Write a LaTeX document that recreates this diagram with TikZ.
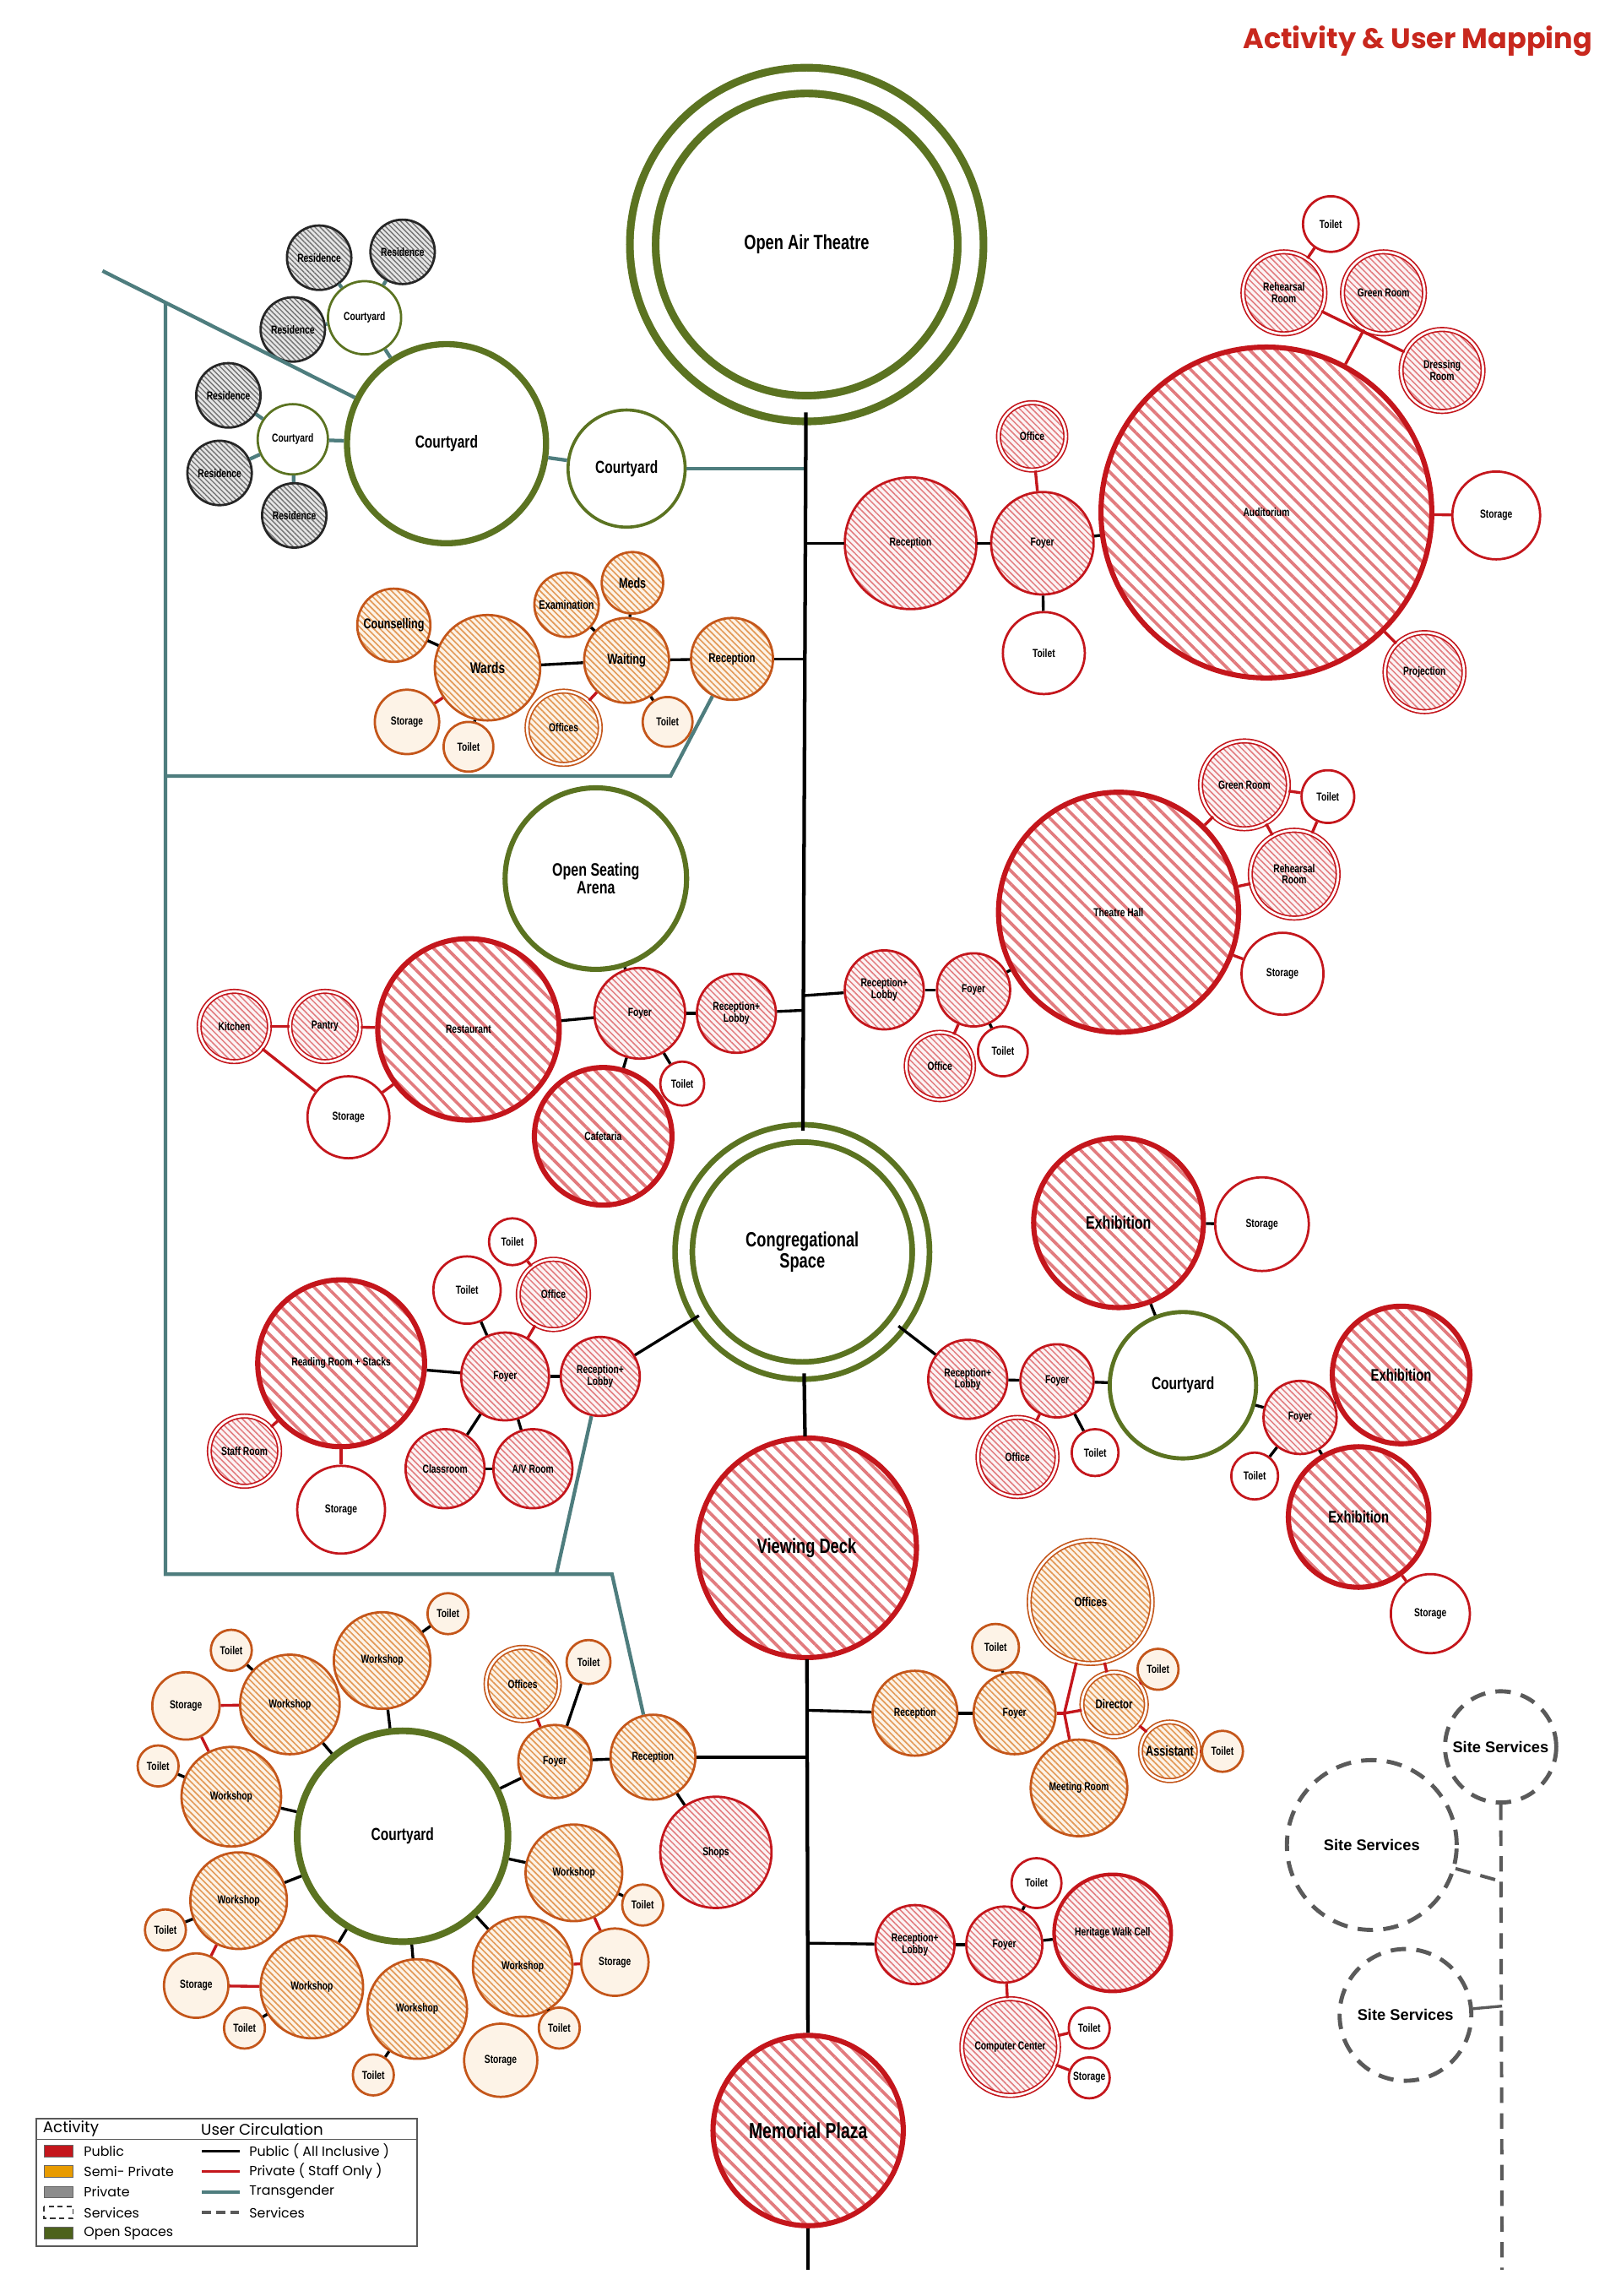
\documentclass[tikz,border=0pt]{standalone}
\usepackage{fontspec}
\usepackage{tikz}
\usetikzlibrary{patterns.meta}

\newfontfamily\condfont{Liberation Sans}[FakeStretch=0.75]
\newfontfamily\arialfont{Liberation Sans}
\newfontfamily\popfont{Poppins}

\definecolor{pubred}{HTML}{C4161C}
\definecolor{pubhatch}{HTML}{E27B7E}
\definecolor{semiorange}{HTML}{C4561A}
\definecolor{semihatch}{HTML}{E39A58}
\definecolor{semibg}{HTML}{FDF3E7}
\definecolor{openolive}{HTML}{5B7321}
\definecolor{transteal}{HTML}{4E7D7E}
\definecolor{svcgrey}{HTML}{5A5A5A}
\definecolor{titlered}{HTML}{C8281E}
\definecolor{legorange}{HTML}{E89B00}

\tikzset{
  fs/.style={font=\condfont\bfseries\fontsize{#1}{#1}\selectfont},
  room/.style={circle, minimum size=#1*0.4mm, inner sep=0pt, align=center, fs=4.5},
  pubroom/.style={room=#1, draw=pubred, line width=0.9pt, preaction={fill=pubred!5},
    pattern={Lines[angle=-45,distance=1.7pt,line width=0.5pt]}, pattern color=pubhatch},
  pubhall/.style={room=#1, draw=pubred, line width=2pt, preaction={fill=white},
    pattern={Lines[angle=-45,distance=3.6pt,line width=1.2pt]}, pattern color=pubhatch},
  pubsvc/.style={room=#1, draw=pubred, line width=0.9pt, fill=white},
  semiroom/.style={room=#1, draw=semiorange, line width=0.9pt, preaction={fill=semibg},
    pattern={Lines[angle=-45,distance=1.7pt,line width=0.55pt]}, pattern color=semihatch},
  semisvc/.style={room=#1, draw=semiorange, line width=0.9pt, fill=semibg},
  privroom/.style={room=#1, draw=black!85, line width=0.9pt, preaction={fill=black!10},
    pattern={Lines[angle=-45,distance=1.4pt,line width=0.45pt]}, pattern color=black!55},
  openroom/.style={room=#1, draw=openolive, line width=0.9pt, fill=white},
  svcroom/.style={room=#1, draw=svcgrey, line width=1.6pt, dash pattern=on 6pt off 4pt,
    fill=white, font=\arialfont\bfseries\fontsize{6}{7}\selectfont},
  twin/.style={double=white, double distance=0.9pt, line width=0.55pt},
  publine/.style={black, line width=1.1pt},
  staffline/.style={pubred, line width=1.1pt},
  transline/.style={transteal, line width=1.4pt},
  svcline/.style={svcgrey, line width=1.3pt, dash pattern=on 6pt off 4pt},
  spine/.style={black, line width=1.4pt},
  legtext/.style={anchor=west, inner sep=0pt, font=\popfont\fontsize{5.2}{6}\selectfont},
  leghead/.style={anchor=west, inner sep=0pt, font=\popfont\fontsize{6}{7}\selectfont}
}

\begin{document}
\begin{tikzpicture}[x=0.02cm, y=-0.02cm]
    \useasboundingbox (0,0) rectangle (1107,1568);
    \fill[white] (0,0) rectangle (1107,1568);

    % Title
    \node[anchor=east, inner sep=0pt, text=titlered, font=\popfont\bfseries\fontsize{11}{13}\selectfont] (title) at (1088,28) {Activity \& User Mapping};

    % Main axis
    \node[openroom=112, line width=3pt, double=white, double distance=7pt, fs=8] (oat) at (551,167) {Open Air Theatre};
    \node[openroom=81, line width=2.2pt, double=white, double distance=4.5pt, fs=8] (cong) at (548,855) {Congregational\\Space};
    \node[pubhall=75, fs=8] (vdeck) at (551,1057) {Viewing Deck};
    \node[pubhall=65, fs=8.5] (mplaza) at (552,1455) {Memorial Plaza};
    \coordinate (spbot) at (552,1550);
    \coordinate (sp0) at (549,320);
    \coordinate (sp1) at (549,371);
    \coordinate (sp2) at (549,450);
    \coordinate (sp3) at (548,690);
    \coordinate (sp4) at (548,680);
    \coordinate (sp5) at (551,1200);
    \coordinate (sp6) at (551,1168);
    \coordinate (sp7) at (551,1327);

    % Residences
    \node[privroom=22] (res1) at (218,176) {Residence};
    \node[privroom=22] (res2) at (275,172) {Residence};
    \node[privroom=22] (res3) at (200,225) {Residence};
    \node[openroom=25] (cy1) at (249,217) {Courtyard};
    \node[privroom=22] (res4) at (156,270) {Residence};
    \node[openroom=24] (cy2) at (200,300) {Courtyard};
    \node[privroom=22] (res5) at (150,323) {Residence};
    \node[privroom=22] (res6) at (201,352) {Residence};
    \node[openroom=68, line width=2.4pt, fs=6.8] (cy3) at (305,303) {Courtyard};
    \node[openroom=40, line width=1.2pt, fs=6.8] (cy4) at (428,320) {Courtyard};

    % Auditorium
    \node[pubroom=45] (audrec) at (622,371) {Reception};
    \node[pubroom=35] (audfoy) at (712,371) {Foyer};
    \node[pubroom=23, twin] (audoff) at (705,298) {Office};
    \node[pubsvc=28] (audwc) at (713,446) {Toilet};
    \node[pubhall=113] (aud) at (865,350) {Auditorium};
    \node[pubsvc=30] (audsto) at (1022,352) {Storage};
    \node[pubroom=27, twin] (audproj) at (973,459) {Projection};
    \node[pubroom=28, twin] (audreh) at (877,200) {Rehearsal\\Room};
    \node[pubroom=28, twin] (audgreen) at (945,200) {Green Room};
    \node[pubroom=28, twin] (auddress) at (985,253) {Dressing\\Room};
    \node[pubsvc=19] (audwc2) at (909,153) {Toilet};

    % Wards
    \node[semiroom=25, fs=5.5] (counsel) at (269,427) {Counselling};
    \node[semiroom=36, fs=6] (wards) at (333,456) {Wards};
    \node[semisvc=22] (wsto) at (278,493) {Storage};
    \node[semisvc=17] (wwc1) at (320,510) {Toilet};
    \node[semiroom=22, fs=4.8] (exam) at (387,413) {Examination};
    \node[semiroom=21, fs=5.5] (meds) at (432,398) {Meds};
    \node[semiroom=29, fs=5.6] (wait) at (428,451) {Waiting};
    \node[semiroom=25, twin] (woff) at (385,497) {Offices};
    \node[semisvc=17] (wwc2) at (456,493) {Toilet};
    \node[semiroom=28, fs=5] (wrec) at (500,450) {Reception};

    % Restaurant
    \node[openroom=62, line width=2pt, fs=7] (arena) at (407,600) {Open Seating\\Arena};
    \node[pubhall=62] (rest) at (320,703) {Restaurant};
    \node[pubroom=24, twin] (pantry) at (222,701) {Pantry};
    \node[pubroom=24, twin] (kitchen) at (160,701) {Kitchen};
    \node[pubsvc=28] (rsto) at (238,763) {Storage};
    \node[pubroom=31] (rfoy) at (437,692) {Foyer};
    \node[pubroom=27] (rrec) at (503,692) {Reception+\\Lobby};
    \node[pubsvc=15] (rwc) at (466,740) {Toilet};
    \node[pubhall=47] (cafe) at (412,776) {Cafetaria};

    % Theatre hall
    \node[pubroom=27] (trec) at (604,676) {Reception+\\Lobby};
    \node[pubroom=25] (tfoy) at (665,676) {Foyer};
    \node[pubroom=23, twin] (toff) at (642,728) {Office};
    \node[pubsvc=17] (twc) at (685,718) {Toilet};
    \node[pubhall=82] (thall) at (764,623) {Theatre Hall};
    \node[pubroom=30, twin] (tgreen) at (850,536) {Green Room};
    \node[pubsvc=18] (twc2) at (907,544) {Toilet};
    \node[pubroom=30, twin] (treh) at (884,597) {Rehearsal\\Room};
    \node[pubsvc=28] (tsto) at (876,665) {Storage};

    % Library
    \node[pubhall=57] (read) at (233,931) {Reading Room + Stacks};
    \node[pubroom=24, twin] (lstaff) at (167,991) {Staff Room};
    \node[pubsvc=30] (lsto) at (233,1031) {Storage};
    \node[pubroom=30] (lfoy) at (345,940) {Foyer};
    \node[pubsvc=23] (lwc1) at (319,881) {Toilet};
    \node[pubroom=24, twin] (loff) at (378,884) {Office};
    \node[pubsvc=16] (lwc2) at (350,848) {Toilet};
    \node[pubroom=27] (lclass) at (304,1003) {Classroom};
    \node[pubroom=27] (lav) at (364,1003) {A/V Room};
    \node[pubroom=27] (lrec) at (410,940) {Reception+\\Lobby};

    % Exhibition
    \node[pubhall=58, fs=7] (exh1) at (764,835) {Exhibition};
    \node[pubsvc=32] (esto1) at (862,836) {Storage};
    \node[openroom=50, line width=1.6pt, fs=6.8] (ecy) at (808,946) {Courtyard};
    \node[pubroom=27] (erec) at (661,942) {Reception+\\Lobby};
    \node[pubroom=25] (efoy) at (722,943) {Foyer};
    \node[pubroom=27, twin] (eoff) at (695,995) {Office};
    \node[pubsvc=16] (ewc) at (748,992) {Toilet};
    \node[pubroom=25] (efoy2) at (888,968) {Foyer};
    \node[pubhall=47, fs=6.5] (exh2) at (957,939) {Exhibition};
    \node[pubsvc=16] (ewc2) at (857,1008) {Toilet};
    \node[pubhall=48, fs=6.5] (exh3) at (928,1036) {Exhibition};
    \node[pubsvc=27] (esto2) at (977,1102) {Storage};

    % Offices
    \node[semiroom=29] (orec) at (625,1170) {Reception};
    \node[semiroom=28] (ofoy) at (693,1170) {Foyer};
    \node[semisvc=16] (owc1) at (680,1125) {Toilet};
    \node[semiroom=42, twin, fs=5] (offs) at (745,1094) {Offices};
    \node[semiroom=22, twin, fs=5] (odir) at (761,1164) {Director};
    \node[semisvc=14] (owc2) at (791,1140) {Toilet};
    \node[semiroom=20, twin, fs=5.5] (oass) at (799,1196) {Assistant};
    \node[semisvc=14] (owc3) at (835,1196) {Toilet};
    \node[semiroom=33] (omeet) at (737,1221) {Meeting Room};
    \coordinate (ojn) at (727,1170);

    % Heritage
    \node[pubroom=27] (hrec) at (625,1328) {Reception+\\Lobby};
    \node[pubroom=26] (hfoy) at (686,1328) {Foyer};
    \node[pubsvc=17] (hwc1) at (708,1286) {Toilet};
    \node[pubroom=40, line width=1.4pt] (herit) at (760,1320) {Heritage Walk Cell};
    \node[pubroom=33, twin] (hcomp) at (690,1398) {Computer Center};
    \node[pubsvc=14] (hwc2) at (744,1385) {Toilet};
    \node[pubsvc=14] (hsto) at (744,1419) {Storage};

    % Workshops
    \node[openroom=72, line width=2.6pt, fs=6.8] (wcy) at (275,1254) {Courtyard};
    \node[semiroom=33] (ws1) at (261,1134) {Workshop};
    \node[semisvc=14] (wt1) at (306,1102) {Toilet};
    \node[semiroom=34] (ws2) at (198,1164) {Workshop};
    \node[semisvc=14] (wt2) at (158,1127) {Toilet};
    \node[semisvc=23] (wst1) at (127,1165) {Storage};
    \node[semiroom=34] (ws3) at (158,1227) {Workshop};
    \node[semisvc=14] (wt3) at (108,1206) {Toilet};
    \node[semiroom=33] (ws4) at (163,1298) {Workshop};
    \node[semisvc=14] (wt4) at (113,1318) {Toilet};
    \node[semisvc=22] (wst2) at (134,1356) {Storage};
    \node[semiroom=35] (ws5) at (213,1357) {Workshop};
    \node[semisvc=14] (wt5) at (167,1385) {Toilet};
    \node[semiroom=34] (ws6) at (285,1372) {Workshop};
    \node[semisvc=14] (wt6) at (255,1417) {Toilet};
    \node[semiroom=34] (ws7) at (357,1343) {Workshop};
    \node[semisvc=25] (wst3) at (342,1407) {Storage};
    \node[semisvc=14] (wt7) at (382,1385) {Toilet};
    \node[semiroom=33] (ws8) at (392,1279) {Workshop};
    \node[semisvc=14] (wt8) at (439,1301) {Toilet};
    \node[semisvc=23] (wst4) at (420,1340) {Storage};
    \node[semiroom=25] (wfoy) at (379,1203) {Foyer};
    \node[semiroom=25, twin] (woffs) at (357,1150) {Offices};
    \node[semisvc=15] (wt9) at (402,1135) {Toilet};
    \node[semiroom=29] (wsrec) at (446,1200) {Reception};
    \node[pubroom=38] (shops) at (489,1265) {Shops};

    % Site services
    \node[svcroom=38] (ss1) at (1025,1193) {Site Services};
    \node[svcroom=58] (ss2) at (937,1260) {Site Services};
    \node[svcroom=45] (ss3) at (960,1376) {Site Services};
    \coordinate (svbot) at (1026,1550);
    \coordinate (sv1) at (1026,1285);
    \coordinate (sv2) at (1026,1370);

    % Spine
    \draw[spine] (oat) -- (cong);
    \draw[spine] (cong) -- (vdeck);
    \draw[spine] (vdeck) -- (mplaza);
    \draw[spine] (mplaza) -- (spbot);

    % Transgender circulation
    \coordinate (tr0) at (70,185);
    \coordinate (tr1) at (113,207);
    \coordinate (tr2) at (113,1075);
    \coordinate (tr3) at (113,530);
    \coordinate (tr4) at (458,530);
    \coordinate (tr5) at (418,1075);
    \coordinate (tr6) at (380,1075);
    \draw[transline] (tr0) -- (cy3);
    \draw[transline] (tr1) -- (tr2) -- (tr5) -- (wsrec);
    \draw[transline] (tr3) -- (tr4) -- (wrec);
    \draw[transline] (tr6) -- (lrec);
    \draw[transline] (res1) -- (cy1);
    \draw[transline] (res2) -- (cy1);
    \draw[transline] (res3) -- (cy1);
    \draw[transline] (cy1) -- (cy3);
    \draw[transline] (res4) -- (cy2);
    \draw[transline] (res5) -- (cy2);
    \draw[transline] (res6) -- (cy2);
    \draw[transline] (cy2) -- (cy3);
    \draw[transline] (cy3) -- (cy4);
    \draw[transline] (cy4) -- (sp0);

    % Auditorium links
    \draw[publine] (sp1) -- (audrec);
    \draw[publine] (audrec) -- (audfoy);
    \draw[publine] (audfoy) -- (audwc);
    \draw[publine] (audfoy) -- (aud);
    \draw[staffline] (audfoy) -- (audoff);
    \draw[staffline] (aud) -- (audsto);
    \draw[staffline] (aud) -- (audproj);
    \draw[staffline] (audreh) -- (audwc2);
    \draw[staffline] (audreh) -- (auddress);
    \draw[staffline] (audgreen) -- (aud);

    % Wards links
    \draw[publine] (sp2) -- (wrec);
    \draw[publine] (wrec) -- (wait);
    \draw[publine] (wait) -- (wards);
    \draw[publine] (wait) -- (exam);
    \draw[publine] (wait) -- (meds);
    \draw[publine] (wait) -- (wwc2);
    \draw[staffline] (wait) -- (woff);
    \draw[publine] (wards) -- (counsel);
    \draw[publine] (wards) -- (wwc1);
    \draw[staffline] (wards) -- (wsto);

    % Restaurant links
    \draw[publine] (sp3) -- (rrec);
    \draw[publine] (rrec) -- (rfoy);
    \draw[publine] (rfoy) -- (rest);
    \draw[publine] (rfoy) -- (arena);
    \draw[publine] (rfoy) -- (cafe);
    \draw[publine] (rfoy) -- (rwc);
    \draw[staffline] (rest) -- (pantry);
    \draw[staffline] (pantry) -- (kitchen);
    \draw[staffline] (kitchen) -- (rsto);
    \draw[staffline] (rsto) -- (rest);

    % Theatre hall links
    \draw[publine] (sp4) -- (trec);
    \draw[publine] (trec) -- (tfoy);
    \draw[publine] (tfoy) -- (thall);
    \draw[publine] (tfoy) -- (twc);
    \draw[staffline] (tfoy) -- (toff);
    \draw[staffline] (thall) -- (tgreen);
    \draw[staffline] (thall) -- (treh);
    \draw[staffline] (tgreen) -- (twc2);
    \draw[staffline] (tgreen) -- (treh);
    \draw[staffline] (twc2) -- (treh);
    \draw[staffline] (thall) -- (tsto);

    % Library links
    \draw[publine] (cong) -- (lrec);
    \draw[publine] (lrec) -- (lfoy);
    \draw[publine] (lfoy) -- (read);
    \draw[publine] (lfoy) -- (lwc1);
    \draw[publine] (lfoy) -- (lclass);
    \draw[publine] (lfoy) -- (lav);
    \draw[publine] (lclass) -- (lav);
    \draw[staffline] (lfoy) -- (loff);
    \draw[staffline] (loff) -- (lwc2);
    \draw[staffline] (read) -- (lstaff);
    \draw[staffline] (read) -- (lsto);

    % Exhibition links
    \draw[publine] (cong) -- (erec);
    \draw[publine] (erec) -- (efoy);
    \draw[publine] (efoy) -- (ecy);
    \draw[publine] (efoy) -- (ewc);
    \draw[staffline] (efoy) -- (eoff);
    \draw[publine] (ecy) -- (exh1);
    \draw[publine] (exh1) -- (esto1);
    \draw[publine] (ecy) -- (efoy2);
    \draw[publine] (efoy2) -- (exh2);
    \draw[publine] (efoy2) -- (exh3);
    \draw[publine] (efoy2) -- (ewc2);
    \draw[staffline] (exh3) -- (esto2);

    % Office links
    \draw[publine] (sp6) -- (orec);
    \draw[publine] (orec) -- (ofoy);
    \draw[publine] (ofoy) -- (owc1);
    \draw[staffline] (ofoy) -- (ojn);
    \draw[staffline] (ojn) -- (offs);
    \draw[staffline] (ojn) -- (odir);
    \draw[staffline] (ojn) -- (omeet);
    \draw[staffline] (offs) -- (odir);
    \draw[staffline] (odir) -- (owc2);
    \draw[staffline] (odir) -- (oass);
    \draw[staffline] (oass) -- (owc3);

    % Heritage links
    \draw[publine] (sp7) -- (hrec);
    \draw[publine] (hrec) -- (hfoy);
    \draw[publine] (hfoy) -- (hwc1);
    \draw[publine] (hfoy) -- (herit);
    \draw[staffline] (hfoy) -- (hcomp);
    \draw[staffline] (hcomp) -- (hwc2);
    \draw[staffline] (hcomp) -- (hsto);

    % Workshop links
    \draw[publine] (sp5) -- (wsrec);
    \draw[publine] (wsrec) -- (wfoy);
    \draw[publine] (wsrec) -- (shops);
    \draw[publine] (wfoy) -- (wcy);
    \draw[publine] (wfoy) -- (wt9);
    \draw[staffline] (wfoy) -- (woffs);
    \draw[publine] (wcy) -- (ws1);
    \draw[publine] (wcy) -- (ws2);
    \draw[publine] (wcy) -- (ws3);
    \draw[publine] (wcy) -- (ws4);
    \draw[publine] (wcy) -- (ws5);
    \draw[publine] (wcy) -- (ws6);
    \draw[publine] (wcy) -- (ws7);
    \draw[publine] (wcy) -- (ws8);
    \draw[publine] (ws1) -- (wt1);
    \draw[publine] (ws2) -- (wt2);
    \draw[publine] (ws3) -- (wt3);
    \draw[publine] (ws4) -- (wt4);
    \draw[publine] (ws5) -- (wt5);
    \draw[publine] (ws6) -- (wt6);
    \draw[publine] (ws7) -- (wt7);
    \draw[publine] (ws8) -- (wt8);
    \draw[staffline] (ws2) -- (wst1);
    \draw[staffline] (wst1) -- (ws3);
    \draw[staffline] (ws4) -- (wst2);
    \draw[staffline] (wst2) -- (ws5);
    \draw[staffline] (ws7) -- (wst4);
    \draw[staffline] (wst4) -- (ws8);

    % Services links
    \draw[svcline] (ss1) -- (svbot);
    \draw[svcline] (ss2) -- (sv1);
    \draw[svcgrey, line width=1.1pt] (ss3) -- (sv2);

    % Legend
    \draw[black!65, line width=0.6pt] (25,1447) rectangle (285,1534);
    \draw[black!65, line width=0.5pt] (25,1461) -- (285,1461);
    \node[leghead] (lgact) at (29,1454) {Activity};
    \node[leghead] (lgcirc) at (137,1454) {User Circulation};
    \filldraw[fill=pubred, draw=black!60, line width=0.3pt] (30,1465) rectangle (50,1473);
    \filldraw[fill=legorange, draw=black!60, line width=0.3pt] (30,1479) rectangle (50,1487);
    \filldraw[fill=black!45, draw=black!60, line width=0.3pt] (30,1493) rectangle (50,1501);
    \draw[black!80, line width=0.5pt, dash pattern=on 2pt off 1.5pt] (30,1507) rectangle (50,1515);
    \filldraw[fill=openolive!85!black, draw=black!60, line width=0.3pt] (30,1521) rectangle (50,1529);
    \node[legtext] (lgpub) at (57,1469) {Public};
    \node[legtext] (lgsemi) at (57,1483) {Semi- Private};
    \node[legtext] (lgpriv) at (57,1497) {Private};
    \node[legtext] (lgsvc) at (57,1511) {Services};
    \node[legtext] (lgopen) at (57,1525) {Open Spaces};
    \draw[black, line width=1.2pt] (138,1469) -- (164,1469);
    \draw[pubred, line width=1.2pt] (138,1483) -- (164,1483);
    \draw[transteal, line width=1.2pt] (138,1497) -- (164,1497);
    \draw[svcgrey, line width=1.2pt, dash pattern=on 3.5pt off 2pt] (138,1511) -- (164,1511);
    \node[legtext] (lgcpub) at (170,1469) {Public ( All Inclusive )};
    \node[legtext] (lgcstaff) at (170,1483) {Private ( Staff Only )};
    \node[legtext] (lgctrans) at (170,1497) {Transgender};
    \node[legtext] (lgcsvc) at (170,1511) {Services};
\end{tikzpicture}
\end{document}
